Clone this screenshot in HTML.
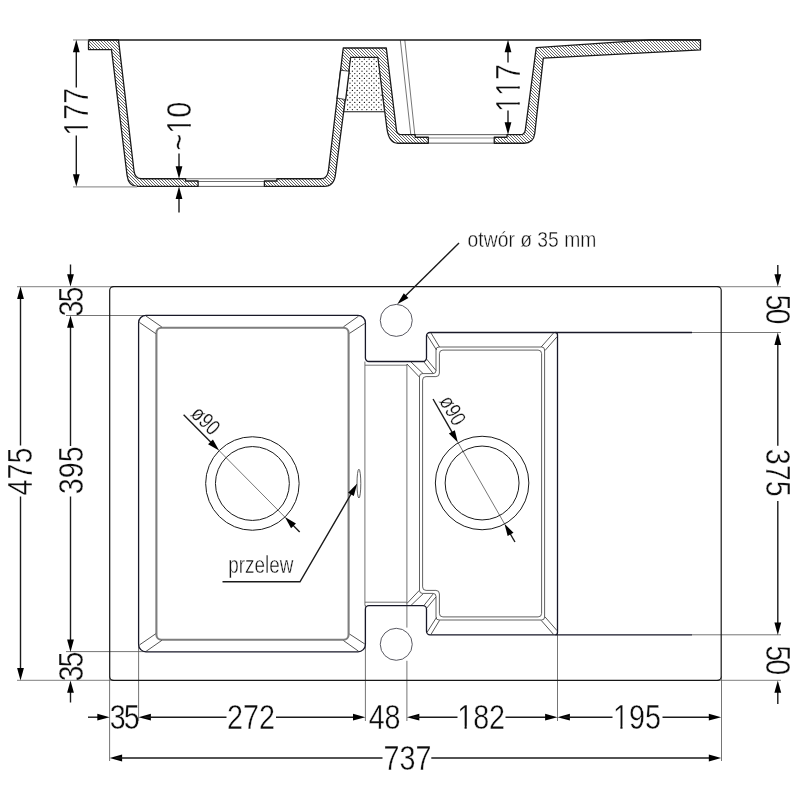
<!DOCTYPE html>
<html lang="pl">
<head>
<meta charset="utf-8">
<title>Zlewozmywak - rysunek techniczny</title>
<style>
html,body{margin:0;padding:0;background:#fff;}
body{width:800px;height:800px;overflow:hidden;}
svg{display:block;will-change:transform;}
.t{font-family:"Liberation Sans","DejaVu Sans",sans-serif;font-kerning:none;fill:#0c0c0c;stroke:#fff;stroke-width:0.42px;}
.ts{font-family:"Liberation Sans","DejaVu Sans",sans-serif;fill:#111;stroke:#fff;stroke-width:0.4px;}
.tr{font-family:"Liberation Sans","DejaVu Sans",sans-serif;fill:#111;stroke:#fff;stroke-width:0.25px;}
.d{stroke:#1a1a1a;stroke-width:1.4;fill:none;}
.k{stroke:#1a1a1a;stroke-width:1.3;fill:none;}
.kt{stroke:#1a1a1a;stroke-width:1.45;fill:none;}
.k5{stroke:#1a1a1a;stroke-width:0.6;fill:none;}
.g{stroke:#5c5c5c;stroke-width:0.85;fill:none;}
.gl{stroke:#989898;stroke-width:1.3;fill:none;}
.gA{stroke:#6e6e6e;stroke-width:1.1;fill:none;}
.gB{stroke:#8a8a8a;stroke-width:1.15;fill:none;}
.gC{stroke:#444;stroke-width:0.9;fill:none;}
.gm{stroke:#444;stroke-width:0.85;fill:none;}
.gi{stroke:#7e7e7e;stroke-width:2.1;fill:none;}
.c{stroke:#2a2a2a;stroke-width:0.8;fill:none;}
.o{stroke:#181828;stroke-width:1.3;fill:none;}
.ok{stroke:#161616;stroke-width:1.2;fill:none;}
.dr{stroke:#1a1a1a;stroke-width:1.0;fill:none;}
.hole{stroke:#50505a;stroke-width:0.95;fill:#fff;}
.ho{stroke:#1a1a1a;stroke-width:1.3;fill:none;stroke-linejoin:round;}
.dots{stroke:#1a1a1a;stroke-width:1.0;fill:none;}
.dt{stroke:#111;stroke-width:1.3;stroke-linecap:round;fill:none;}
.gap{stroke:#222;stroke-width:0.8;fill:none;}
.ar{fill:#000;stroke:none;}
.m{fill:#fff;stroke:none;}
</style>
</head>
<body>
<svg width="800" height="800" viewBox="0 0 800 800">
<defs>
<clipPath id="hc"><path d="M88.5,39.95 L118.5,39.95 L134.0,171 Q135,178.75 141.5,178.75 L185.6,178.75 L185.6,181 L198.1,181 L198.1,186.4 L137.5,186.4 Q128.5,186.4 127.1,175.5 L111.5,49.6 L88.5,49.6 Z"/><path d="M264.4,181 L276.9,181 L276.9,178.75 L321,178.75 Q327.5,178.75 328.5,170 L343.25,48 L386.3,48 L396.5,130.5 Q397.2,134.7 402,134.7 L415.25,134.7 L415.25,137.25 L428.3,137.25 L428.3,143.25 L398,143.25 Q389,143.25 387,129 L377.75,57.5 L350.75,57.5 L335.5,174 Q334.2,186.4 324.2,186.4 L264.4,186.4 Z"/><path d="M494.25,137.25 L507,137.25 L507,134.7 L520.5,134.7 Q524.6,134.7 525.3,130 L536.25,47.7 L650,39.8 L700.5,39.8 L700.5,49.9 L543.3,58.2 L534.75,133.5 Q533.5,143.25 524,143.25 L494.25,143.25 Z"/></clipPath>
</defs>
<rect x="0" y="0" width="800" height="800" fill="#fff"/>
<text class="t" font-size="35.0" text-anchor="middle" transform="translate(76.3,111.8) rotate(-90) scale(0.82,1)" x="0.0" y="12.07">177</text>
<text class="t" font-size="35.0" text-anchor="middle" transform="translate(179.3,126.2) rotate(-90) scale(0.82,1)" x="0.0" y="12.07">~10</text>
<text class="t" font-size="35.0" text-anchor="middle" transform="translate(508,88.0) rotate(-90) scale(0.82,1)" x="0.0" y="12.07">117</text>
<text class="tr" font-size="22" text-anchor="start" transform="translate(189.85,414.93) rotate(45.3) scale(0.80,1)" x="0" y="0">ø90</text>
<text class="tr" font-size="22" text-anchor="start" transform="translate(438.80,401.02) rotate(60.2) scale(0.80,1)" x="0" y="0">ø90</text>
<text class="ts" font-size="22.4" transform="translate(467.6,247.3) scale(0.862,1)" x="0" y="0">otwór ø 35 mm</text>
<text class="ts" font-size="23.4" transform="translate(228.3,573.3) scale(0.808,1)" x="0" y="0">przelew</text>
<text class="t" font-size="35.0" text-anchor="middle" transform="translate(19.8,471.6) rotate(-90) scale(0.82,1)" x="0.0" y="12.07">475</text>
<text class="t" font-size="35.0" text-anchor="middle" letter-spacing="-2.2" transform="translate(70.5,301.5) rotate(-90) scale(0.82,1)" x="-1.1" y="12.07">35</text>
<text class="t" font-size="35.0" text-anchor="middle" transform="translate(70.5,470.3) rotate(-90) scale(0.82,1)" x="0.0" y="12.07">395</text>
<text class="t" font-size="35.0" text-anchor="middle" letter-spacing="-2.2" transform="translate(70.5,666.5) rotate(-90) scale(0.82,1)" x="-1.1" y="12.07">35</text>
<text class="t" font-size="35.0" text-anchor="middle" letter-spacing="-2.2" transform="translate(777.5999999999999,309.5) rotate(90) scale(0.82,1)" x="-1.1" y="12.07">50</text>
<text class="t" font-size="35.0" text-anchor="middle" transform="translate(777.8,472.8) rotate(90) scale(0.82,1)" x="0.0" y="12.07">375</text>
<text class="t" font-size="35.0" text-anchor="middle" letter-spacing="-2.2" transform="translate(777.5999999999999,660.2) rotate(90) scale(0.82,1)" x="-1.1" y="12.07">50</text>
<text class="t" font-size="35.0" text-anchor="middle" letter-spacing="-2.4" transform="translate(124.7,717.2) rotate(0) scale(0.82,1)" x="-1.2" y="12.07">35</text>
<text class="t" font-size="35.0" text-anchor="middle" transform="translate(251,717.2) rotate(0) scale(0.82,1)" x="0.0" y="12.07">272</text>
<text class="t" font-size="35.0" text-anchor="middle" transform="translate(384.6,717.2) rotate(0) scale(0.82,1)" x="0.0" y="12.07">48</text>
<text class="t" font-size="35.0" text-anchor="middle" transform="translate(481.1,717.2) rotate(0) scale(0.82,1)" x="0.0" y="12.07">182</text>
<text class="t" font-size="35.0" text-anchor="middle" transform="translate(636.9,717.2) rotate(0) scale(0.82,1)" x="0.0" y="12.07">195</text>
<text class="t" font-size="35.0" text-anchor="middle" transform="translate(407.4,758) rotate(0) scale(0.82,1)" x="0.0" y="12.07">737</text>
<rect class="m" transform="translate(76.3,111.8) rotate(-90) scale(0.82,1)" x="-27.33" y="8.66" width="7.19" height="4.21"/>
<rect class="m" transform="translate(76.3,111.8) rotate(-90) scale(0.82,1)" x="-17.55" y="8.66" width="6.91" height="4.21"/>
<rect class="m" transform="translate(179.3,126.2) rotate(-90) scale(0.82,1)" x="-7.38" y="8.66" width="7.19" height="4.21"/>
<rect class="m" transform="translate(179.3,126.2) rotate(-90) scale(0.82,1)" x="2.40" y="8.66" width="6.91" height="4.21"/>
<rect class="m" transform="translate(508,88.0) rotate(-90) scale(0.82,1)" x="-27.33" y="8.66" width="7.19" height="4.21"/>
<rect class="m" transform="translate(508,88.0) rotate(-90) scale(0.82,1)" x="-17.55" y="8.66" width="6.91" height="4.21"/>
<rect class="m" transform="translate(508,88.0) rotate(-90) scale(0.82,1)" x="-7.87" y="8.66" width="7.19" height="4.21"/>
<rect class="m" transform="translate(508,88.0) rotate(-90) scale(0.82,1)" x="1.91" y="8.66" width="6.91" height="4.21"/>
<rect class="m" transform="translate(481.1,717.2) rotate(0) scale(0.82,1)" x="-27.33" y="8.66" width="7.19" height="4.21"/>
<rect class="m" transform="translate(481.1,717.2) rotate(0) scale(0.82,1)" x="-17.55" y="8.66" width="6.91" height="4.21"/>
<rect class="m" transform="translate(636.9,717.2) rotate(0) scale(0.82,1)" x="-27.33" y="8.66" width="7.19" height="4.21"/>
<rect class="m" transform="translate(636.9,717.2) rotate(0) scale(0.82,1)" x="-17.55" y="8.66" width="6.91" height="4.21"/>
<g id="section">
<line class="gA" x1="185.6" y1="178.7" x2="277" y2="178.7"/>
<line class="gA" x1="198.1" y1="181.45" x2="264.4" y2="181.45"/>
<line class="gC" x1="198.1" y1="186.4" x2="264.4" y2="186.4"/>
<line class="gC" x1="415.2" y1="134.65" x2="507" y2="134.65"/>
<line class="gB" x1="428.3" y1="138.0" x2="494.2" y2="138.0"/>
<line class="gC" x1="428.3" y1="143.15" x2="494.2" y2="143.15"/>
<line class="k5" x1="400.3" y1="40" x2="410.8" y2="134.7"/>
<line class="k5" x1="404.8" y1="40" x2="414.8" y2="134.7"/>
<path d="M88.5,39.95 L118.5,39.95 L134.0,171 Q135,178.75 141.5,178.75 L185.6,178.75 L185.6,181 L198.1,181 L198.1,186.4 L137.5,186.4 Q128.5,186.4 127.1,175.5 L111.5,49.6 L88.5,49.6 Z" fill="#fff" stroke="none"/>
<path d="M264.4,181 L276.9,181 L276.9,178.75 L321,178.75 Q327.5,178.75 328.5,170 L343.25,48 L386.3,48 L396.5,130.5 Q397.2,134.7 402,134.7 L415.25,134.7 L415.25,137.25 L428.3,137.25 L428.3,143.25 L398,143.25 Q389,143.25 387,129 L377.75,57.5 L350.75,57.5 L335.5,174 Q334.2,186.4 324.2,186.4 L264.4,186.4 Z" fill="#fff" stroke="none"/>
<path d="M494.25,137.25 L507,137.25 L507,134.7 L520.5,134.7 Q524.6,134.7 525.3,130 L536.25,47.7 L650,39.8 L700.5,39.8 L700.5,49.9 L543.3,58.2 L534.75,133.5 Q533.5,143.25 524,143.25 L494.25,143.25 Z" fill="#fff" stroke="none"/>
<path clip-path="url(#hc)" d="M-66.0,36l154,154M-63.0,36l154,154M-60.0,36l154,154M-57.0,36l154,154M-54.0,36l154,154M-51.0,36l154,154M-48.0,36l154,154M-45.0,36l154,154M-42.0,36l154,154M-39.0,36l154,154M-36.0,36l154,154M-33.0,36l154,154M-30.0,36l154,154M-27.0,36l154,154M-24.0,36l154,154M-21.0,36l154,154M-18.0,36l154,154M-15.0,36l154,154M-12.0,36l154,154M-9.0,36l154,154M-6.0,36l154,154M-3.0,36l154,154M0.0,36l154,154M3.0,36l154,154M6.0,36l154,154M9.0,36l154,154M12.0,36l154,154M15.0,36l154,154M18.0,36l154,154M21.0,36l154,154M24.0,36l154,154M27.0,36l154,154M30.0,36l154,154M33.0,36l154,154M36.0,36l154,154M39.0,36l154,154M42.0,36l154,154M45.0,36l154,154M48.0,36l154,154M51.0,36l154,154M54.0,36l154,154M57.0,36l154,154M60.0,36l154,154M63.0,36l154,154M66.0,36l154,154M69.0,36l154,154M72.0,36l154,154M75.0,36l154,154M78.0,36l154,154M81.0,36l154,154M84.0,36l154,154M87.0,36l154,154M90.0,36l154,154M93.0,36l154,154M96.0,36l154,154M99.0,36l154,154M102.0,36l154,154M105.0,36l154,154M108.0,36l154,154M111.0,36l154,154M114.0,36l154,154M117.0,36l154,154M120.0,36l154,154M123.0,36l154,154M126.0,36l154,154M129.0,36l154,154M132.0,36l154,154M135.0,36l154,154M138.0,36l154,154M141.0,36l154,154M144.0,36l154,154M147.0,36l154,154M150.0,36l154,154M153.0,36l154,154M156.0,36l154,154M159.0,36l154,154M162.0,36l154,154M165.0,36l154,154M168.0,36l154,154M171.0,36l154,154M174.0,36l154,154M177.0,36l154,154M180.0,36l154,154M183.0,36l154,154M186.0,36l154,154M189.0,36l154,154M192.0,36l154,154M195.0,36l154,154M198.0,36l154,154M201.0,36l154,154M204.0,36l154,154M207.0,36l154,154M210.0,36l154,154M213.0,36l154,154M216.0,36l154,154M219.0,36l154,154M222.0,36l154,154M225.0,36l154,154M228.0,36l154,154M231.0,36l154,154M234.0,36l154,154M237.0,36l154,154M240.0,36l154,154M243.0,36l154,154M246.0,36l154,154M249.0,36l154,154M252.0,36l154,154M255.0,36l154,154M258.0,36l154,154M261.0,36l154,154M264.0,36l154,154M267.0,36l154,154M270.0,36l154,154M273.0,36l154,154M276.0,36l154,154M279.0,36l154,154M282.0,36l154,154M285.0,36l154,154M288.0,36l154,154M291.0,36l154,154M294.0,36l154,154M297.0,36l154,154M300.0,36l154,154M303.0,36l154,154M306.0,36l154,154M309.0,36l154,154M312.0,36l154,154M315.0,36l154,154M318.0,36l154,154M321.0,36l154,154M324.0,36l154,154M327.0,36l154,154M330.0,36l154,154M333.0,36l154,154M336.0,36l154,154M339.0,36l154,154M342.0,36l154,154M345.0,36l154,154M348.0,36l154,154M351.0,36l154,154M354.0,36l154,154M357.0,36l154,154M360.0,36l154,154M363.0,36l154,154M366.0,36l154,154M369.0,36l154,154M372.0,36l154,154M375.0,36l154,154M378.0,36l154,154M381.0,36l154,154M384.0,36l154,154M387.0,36l154,154M390.0,36l154,154M393.0,36l154,154M396.0,36l154,154M399.0,36l154,154M402.0,36l154,154M405.0,36l154,154M408.0,36l154,154M411.0,36l154,154M414.0,36l154,154M417.0,36l154,154M420.0,36l154,154M423.0,36l154,154M426.0,36l154,154M429.0,36l154,154M432.0,36l154,154M435.0,36l154,154M438.0,36l154,154M441.0,36l154,154M444.0,36l154,154M447.0,36l154,154M450.0,36l154,154M453.0,36l154,154M456.0,36l154,154M459.0,36l154,154M462.0,36l154,154M465.0,36l154,154M468.0,36l154,154M471.0,36l154,154M474.0,36l154,154M477.0,36l154,154M480.0,36l154,154M483.0,36l154,154M486.0,36l154,154M489.0,36l154,154M492.0,36l154,154M495.0,36l154,154M498.0,36l154,154M501.0,36l154,154M504.0,36l154,154M507.0,36l154,154M510.0,36l154,154M513.0,36l154,154M516.0,36l154,154M519.0,36l154,154M522.0,36l154,154M525.0,36l154,154M528.0,36l154,154M531.0,36l154,154M534.0,36l154,154M537.0,36l154,154M540.0,36l154,154M543.0,36l154,154M546.0,36l154,154M549.0,36l154,154M552.0,36l154,154M555.0,36l154,154M558.0,36l154,154M561.0,36l154,154M564.0,36l154,154M567.0,36l154,154M570.0,36l154,154M573.0,36l154,154M576.0,36l154,154M579.0,36l154,154M582.0,36l154,154M585.0,36l154,154M588.0,36l154,154M591.0,36l154,154M594.0,36l154,154M597.0,36l154,154M600.0,36l154,154M603.0,36l154,154M606.0,36l154,154M609.0,36l154,154M612.0,36l154,154M615.0,36l154,154M618.0,36l154,154M621.0,36l154,154M624.0,36l154,154M627.0,36l154,154M630.0,36l154,154M633.0,36l154,154M636.0,36l154,154M639.0,36l154,154M642.0,36l154,154M645.0,36l154,154M648.0,36l154,154M651.0,36l154,154M654.0,36l154,154M657.0,36l154,154M660.0,36l154,154M663.0,36l154,154M666.0,36l154,154M669.0,36l154,154M672.0,36l154,154M675.0,36l154,154M678.0,36l154,154M681.0,36l154,154M684.0,36l154,154M687.0,36l154,154M690.0,36l154,154M693.0,36l154,154M696.0,36l154,154M699.0,36l154,154" stroke="#363636" stroke-width="0.76" fill="none"/>
<path class="ho" d="M88.5,39.95 L118.5,39.95 L134.0,171 Q135,178.75 141.5,178.75 L185.6,178.75 L185.6,181 L198.1,181 L198.1,186.4 L137.5,186.4 Q128.5,186.4 127.1,175.5 L111.5,49.6 L88.5,49.6 Z"/>
<path class="ho" d="M264.4,181 L276.9,181 L276.9,178.75 L321,178.75 Q327.5,178.75 328.5,170 L343.25,48 L386.3,48 L396.5,130.5 Q397.2,134.7 402,134.7 L415.25,134.7 L415.25,137.25 L428.3,137.25 L428.3,143.25 L398,143.25 Q389,143.25 387,129 L377.75,57.5 L350.75,57.5 L335.5,174 Q334.2,186.4 324.2,186.4 L264.4,186.4 Z"/>
<path d="M350.75,57.5 L377.75,57.5 L384.5,111.75 L343.9,111.75 Z" fill="#fff" stroke="none"/>
<path class="dt" d="M354.8,59.2h0M359.6,59.2h0M364.4,59.2h0M369.2,59.2h0M374.0,59.2h0M352.4,61.6h0M357.2,61.6h0M362.0,61.6h0M366.8,61.6h0M371.6,61.6h0M376.4,61.6h0M354.8,64.0h0M359.6,64.0h0M364.4,64.0h0M369.2,64.0h0M374.0,64.0h0M352.4,66.4h0M357.2,66.4h0M362.0,66.4h0M366.8,66.4h0M371.6,66.4h0M376.4,66.4h0M354.8,68.8h0M359.6,68.8h0M364.4,68.8h0M369.2,68.8h0M374.0,68.8h0M352.4,71.2h0M357.2,71.2h0M362.0,71.2h0M366.8,71.2h0M371.6,71.2h0M376.4,71.2h0M350.0,73.6h0M354.8,73.6h0M359.6,73.6h0M364.4,73.6h0M369.2,73.6h0M374.0,73.6h0M378.8,73.6h0M352.4,76.0h0M357.2,76.0h0M362.0,76.0h0M366.8,76.0h0M371.6,76.0h0M376.4,76.0h0M350.0,78.4h0M354.8,78.4h0M359.6,78.4h0M364.4,78.4h0M369.2,78.4h0M374.0,78.4h0M378.8,78.4h0M352.4,80.8h0M357.2,80.8h0M362.0,80.8h0M366.8,80.8h0M371.6,80.8h0M376.4,80.8h0M350.0,83.2h0M354.8,83.2h0M359.6,83.2h0M364.4,83.2h0M369.2,83.2h0M374.0,83.2h0M378.8,83.2h0M352.4,85.6h0M357.2,85.6h0M362.0,85.6h0M366.8,85.6h0M371.6,85.6h0M376.4,85.6h0M350.0,88.0h0M354.8,88.0h0M359.6,88.0h0M364.4,88.0h0M369.2,88.0h0M374.0,88.0h0M378.8,88.0h0M347.6,90.4h0M352.4,90.4h0M357.2,90.4h0M362.0,90.4h0M366.8,90.4h0M371.6,90.4h0M376.4,90.4h0M350.0,92.8h0M354.8,92.8h0M359.6,92.8h0M364.4,92.8h0M369.2,92.8h0M374.0,92.8h0M378.8,92.8h0M347.6,95.2h0M352.4,95.2h0M357.2,95.2h0M362.0,95.2h0M366.8,95.2h0M371.6,95.2h0M376.4,95.2h0M381.2,95.2h0M350.0,97.6h0M354.8,97.6h0M359.6,97.6h0M364.4,97.6h0M369.2,97.6h0M374.0,97.6h0M378.8,97.6h0M347.6,100.0h0M352.4,100.0h0M357.2,100.0h0M362.0,100.0h0M366.8,100.0h0M371.6,100.0h0M376.4,100.0h0M381.2,100.0h0M350.0,102.4h0M354.8,102.4h0M359.6,102.4h0M364.4,102.4h0M369.2,102.4h0M374.0,102.4h0M378.8,102.4h0M347.6,104.8h0M352.4,104.8h0M357.2,104.8h0M362.0,104.8h0M366.8,104.8h0M371.6,104.8h0M376.4,104.8h0M381.2,104.8h0M350.0,107.2h0M354.8,107.2h0M359.6,107.2h0M364.4,107.2h0M369.2,107.2h0M374.0,107.2h0M378.8,107.2h0M347.6,109.6h0M352.4,109.6h0M357.2,109.6h0M362.0,109.6h0M366.8,109.6h0M371.6,109.6h0M376.4,109.6h0M381.2,109.6h0"/>
<path class="dots" d="M350.75,57.5 L377.75,57.5 L384.5,111.75 L343.9,111.75 Z"/>
<path d="M340.6,70.3 L349.2,71.2 L345.6,99.6 L337,98 Z" fill="#fff" stroke="none"/>
<path class="gap" d="M340.6,70.3 L349.2,71.2 M345.6,99.6 L337,98"/>
<path class="ho" d="M340.75,69.3 L337,99 M349.3,70.2 L345.55,100.6"/>
<path class="ho" d="M494.25,137.25 L507,137.25 L507,134.7 L520.5,134.7 Q524.6,134.7 525.3,130 L536.25,47.7 L650,39.8 L700.5,39.8 L700.5,49.9 L543.3,58.2 L534.75,133.5 Q533.5,143.25 524,143.25 L494.25,143.25 Z"/>
<line class="kt" x1="88.5" y1="39.95" x2="700.5" y2="39.95"/>
<line class="gl" x1="73" y1="39.95" x2="88.5" y2="39.95"/>
<line class="gl" x1="73" y1="186.9" x2="137" y2="186.9"/>
<line class="d" x1="76.3" y1="45" x2="76.3" y2="87.5"/>
<line class="d" x1="76.3" y1="135.5" x2="76.3" y2="181"/>
<polygon class="ar" points="76.30,39.80 79.70,52.20 72.90,52.20"/>
<polygon class="ar" points="76.30,186.60 72.90,174.20 79.70,174.20"/>
<line class="d" x1="179.0" y1="153.5" x2="179.0" y2="172"/>
<polygon class="ar" points="179.00,178.75 175.60,166.35 182.40,166.35"/>
<line class="d" x1="179.0" y1="192" x2="179.0" y2="212.5"/>
<polygon class="ar" points="179.00,186.60 182.40,199.00 175.60,199.00"/>
<line class="d" x1="508" y1="45" x2="508" y2="62.5"/>
<line class="d" x1="508" y1="110.5" x2="508" y2="130"/>
<polygon class="ar" points="508.00,39.80 511.40,52.20 504.60,52.20"/>
<polygon class="ar" points="508.00,134.70 504.60,122.30 511.40,122.30"/>
</g>
<g id="plan">
<line class="gl" x1="17" y1="286.55" x2="113.7" y2="286.55"/>
<line class="gl" x1="17" y1="680.4" x2="113.7" y2="680.4"/>
<line class="g" x1="66" y1="315.5" x2="146" y2="315.5"/>
<line class="g" x1="66" y1="651.6" x2="146" y2="651.6"/>
<line class="gl" x1="717.2" y1="286.55" x2="781" y2="286.55"/>
<line class="gl" x1="717.2" y1="680.4" x2="781" y2="680.4"/>
<line class="g" x1="692" y1="332.5" x2="781" y2="332.5"/>
<line class="g" x1="692" y1="634.8" x2="781" y2="634.8"/>
<line class="g" x1="109.60000000000001" y1="676.4" x2="109.60000000000001" y2="761"/>
<line class="g" x1="721.5" y1="676.4" x2="721.5" y2="761"/>
<line class="g" x1="138.6" y1="645" x2="138.6" y2="721"/>
<line class="g" x1="365.4" y1="605" x2="365.4" y2="721"/>
<line class="g" x1="406.9" y1="364" x2="406.9" y2="627.6"/>
<line class="g" x1="406.9" y1="660.8" x2="406.9" y2="721"/>
<line class="g" x1="557.5" y1="630" x2="557.5" y2="721"/>
<line class="g" x1="364.9" y1="361.5" x2="364.9" y2="605.5"/>
<line class="g" x1="365" y1="365.2" x2="407" y2="365.2"/>
<line class="g" x1="365" y1="602.2" x2="407" y2="602.2"/>
<circle class="hole" cx="396.25" cy="320.4" r="16"/>
<circle class="hole" cx="396.25" cy="644.3" r="16"/>
<rect class="ok" x="109.7" y="286.55" width="611.50" height="393.85" rx="3.8"/>
<path class="o" d="M146,315.4 L358,315.4 A7.4,7.4 0 0 1 365.4,322.8 L365.4,358 A3.5,3.5 0 0 0 368.9,361.5 L423,361.5 A3.5,3.5 0 0 0 426.5,358 L426.5,336 A3.5,3.5 0 0 1 430,332.5 L692,332.5 M692,634.8 L430,634.8 A3.5,3.5 0 0 1 426.5,631.3 L426.5,609.2 A3.5,3.5 0 0 0 423,605.7 L368.9,605.7 A3.5,3.5 0 0 0 365.4,609.2 L365.4,644.4 A7.4,7.4 0 0 1 358,651.8 L146,651.8 A7.4,7.4 0 0 1 138.6,644.4 L138.6,322.8 A7.4,7.4 0 0 1 146,315.4"/>
<path class="o" d="M555.5,332.5 Q557.5,332.5 557.5,335 L557.5,632.3 Q557.5,634.8 555.5,634.8"/>
<rect class="gi" x="156.4" y="327.7" width="192.2" height="312" rx="5"/>
<line class="c" x1="139.5" y1="322.5" x2="155.7" y2="333.6"/>
<line class="c" x1="139.5" y1="644.9" x2="155.7" y2="633.8"/>
<line class="c" x1="146" y1="316" x2="161.8" y2="327"/>
<line class="c" x1="146" y1="651.4" x2="161.8" y2="640.4"/>
<line class="c" x1="343.5" y1="326.8" x2="358.5" y2="316.2"/>
<line class="c" x1="343.5" y1="640.5999999999999" x2="358.5" y2="651.2"/>
<line class="c" x1="349.6" y1="333.3" x2="364.8" y2="323.4"/>
<line class="c" x1="349.6" y1="634.0999999999999" x2="364.8" y2="644.0"/>
<path class="gm" d="M419.5,376.6 Q419.5,373.6 422.5,373.6 L433,373.6 Q436,373.6 436,370.6 L436,350 Q436,347 439,347 L541.6,347 Q544.6,347 544.6,350 L544.6,617.0 Q544.6,620.0 541.6,620.0 L439,620.0 Q436,620.0 436,617.0 L436,596.4 Q436,593.4 433,593.4 L422.5,593.4 Q419.5,593.4 419.5,590.4 Z"/>
<path class="gm" d="M422.6,380.1 Q422.6,376.6 426.1,376.6 L435.9,376.6 Q439.4,376.6 439.4,373.1 L439.4,353.6 Q439.4,350.1 442.9,350.1 L538.1,350.1 Q541.6,350.1 541.6,353.6 L541.6,613.4 Q541.6,616.9 538.1,616.9 L442.9,616.9 Q439.4,616.9 439.4,613.4 L439.4,593.9 Q439.4,590.4 435.9,590.4 L426.1,590.4 Q422.6,590.4 422.6,586.9 Z"/>
<line class="c" x1="407" y1="364" x2="419.3" y2="377"/>
<line class="c" x1="407" y1="603.4" x2="419.3" y2="590.4"/>
<line class="c" x1="411" y1="362" x2="423" y2="373.5"/>
<line class="c" x1="411" y1="605.4" x2="423" y2="593.9"/>
<line class="c" x1="424" y1="362" x2="433" y2="373.3"/>
<line class="c" x1="424" y1="605.4" x2="433" y2="594.0999999999999"/>
<line class="c" x1="426.5" y1="359" x2="436" y2="370.5"/>
<line class="c" x1="426.5" y1="608.4" x2="436" y2="596.9"/>
<line class="c" x1="427" y1="335" x2="436.5" y2="350"/>
<line class="c" x1="427" y1="632.4" x2="436.5" y2="617.4"/>
<line class="c" x1="431" y1="333" x2="439.5" y2="347"/>
<line class="c" x1="431" y1="634.4" x2="439.5" y2="620.4"/>
<line class="c" x1="541.2" y1="347" x2="553.5" y2="333"/>
<line class="c" x1="541.2" y1="620.4" x2="553.5" y2="634.4"/>
<line class="c" x1="545" y1="350.5" x2="557" y2="336.8"/>
<line class="c" x1="545" y1="616.9" x2="557" y2="630.5999999999999"/>
<ellipse class="gm" cx="358.9" cy="483.6" rx="1.9" ry="14.4"/>
<circle class="dr" cx="252.4" cy="483.5" r="46.75"/>
<circle class="dr" cx="252.4" cy="483.5" r="36.95"/>
<circle class="dr" cx="482.1" cy="483.0" r="46.75"/>
<circle class="dr" cx="482.1" cy="483.0" r="36.95"/>
<line class="k5" x1="219.08" y1="450.58" x2="284.92" y2="517.12"/>
<line class="d" x1="183.63" y1="414.76" x2="214.86" y2="446.32"/>
<line class="d" x1="299.69" y1="532.04" x2="289.14" y2="521.38"/>
<polygon class="ar" points="219.08,450.58 208.08,444.30 212.92,439.52"/>
<polygon class="ar" points="284.92,517.12 295.92,523.40 291.08,528.18"/>
<line class="k5" x1="457.89" y1="442.40" x2="504.51" y2="523.80"/>
<line class="d" x1="433.04" y1="399.01" x2="454.91" y2="437.20"/>
<line class="d" x1="514.94" y1="542.02" x2="507.49" y2="529.00"/>
<polygon class="ar" points="457.89,442.40 448.88,433.50 454.78,430.13"/>
<polygon class="ar" points="504.51,523.80 513.52,532.70 507.62,536.07"/>
<line class="d" x1="459" y1="243" x2="402.5" y2="298.8"/>
<polygon class="ar" points="397.20,304.30 403.80,293.18 408.43,297.89"/>
<path class="d" fill="none" d="M222.5,581.8 L300,581.8 L354,489"/>
<polygon class="ar" points="357.20,483.60 353.81,496.08 348.09,492.78"/>
<line class="d" x1="20.5" y1="292.55" x2="20.5" y2="445.5"/>
<line class="d" x1="20.5" y1="496.5" x2="20.5" y2="674.4"/>
<polygon class="ar" points="20.50,286.55 23.90,298.95 17.10,298.95"/>
<polygon class="ar" points="20.50,680.40 17.10,668.00 23.90,668.00"/>
<line class="d" x1="70.5" y1="264.5" x2="70.5" y2="280.55"/>
<polygon class="ar" points="70.50,286.55 67.10,274.15 73.90,274.15"/>
<line class="d" x1="70.5" y1="321" x2="70.5" y2="446"/>
<line class="d" x1="70.5" y1="496.5" x2="70.5" y2="646"/>
<polygon class="ar" points="70.50,315.40 73.90,327.80 67.10,327.80"/>
<polygon class="ar" points="70.50,652.00 67.10,639.60 73.90,639.60"/>
<line class="d" x1="70.5" y1="686.4" x2="70.5" y2="702.5"/>
<polygon class="ar" points="70.50,680.40 73.90,692.80 67.10,692.80"/>
<line class="d" x1="777.8" y1="265" x2="777.8" y2="280.55"/>
<polygon class="ar" points="777.80,286.55 774.40,274.15 781.20,274.15"/>
<line class="d" x1="777.8" y1="338" x2="777.8" y2="445.8"/>
<line class="d" x1="777.8" y1="501" x2="777.8" y2="629"/>
<polygon class="ar" points="777.80,332.50 781.20,344.90 774.40,344.90"/>
<polygon class="ar" points="777.80,635.00 774.40,622.60 781.20,622.60"/>
<line class="d" x1="777.8" y1="686.4" x2="777.8" y2="704"/>
<polygon class="ar" points="777.80,680.40 781.20,692.80 774.40,692.80"/>
<line class="d" x1="88" y1="717.2" x2="103.7" y2="717.2"/>
<polygon class="ar" points="109.70,717.20 97.30,720.60 97.30,713.80"/>
<polygon class="ar" points="138.50,717.20 150.90,713.80 150.90,720.60"/>
<line class="d" x1="144.5" y1="717.2" x2="226.5" y2="717.2"/>
<line class="d" x1="276" y1="717.2" x2="359.5" y2="717.2"/>
<polygon class="ar" points="365.40,717.20 353.00,720.60 353.00,713.80"/>
<polygon class="ar" points="406.90,717.20 419.30,713.80 419.30,720.60"/>
<line class="d" x1="413" y1="717.2" x2="457.5" y2="717.2"/>
<line class="d" x1="505.5" y1="717.2" x2="551.5" y2="717.2"/>
<polygon class="ar" points="557.50,717.20 545.10,720.60 545.10,713.80"/>
<polygon class="ar" points="557.50,717.20 569.90,713.80 569.90,720.60"/>
<line class="d" x1="563.5" y1="717.2" x2="612.5" y2="717.2"/>
<line class="d" x1="662.5" y1="717.2" x2="715" y2="717.2"/>
<polygon class="ar" points="721.20,717.20 708.80,720.60 708.80,713.80"/>
<polygon class="ar" points="109.70,758.00 122.10,754.60 122.10,761.40"/>
<line class="d" x1="115.7" y1="758" x2="382.5" y2="758"/>
<line class="d" x1="431.3" y1="758" x2="715.2" y2="758"/>
<polygon class="ar" points="721.20,758.00 708.80,761.40 708.80,754.60"/>
</g>
</svg>
</body>
</html>
